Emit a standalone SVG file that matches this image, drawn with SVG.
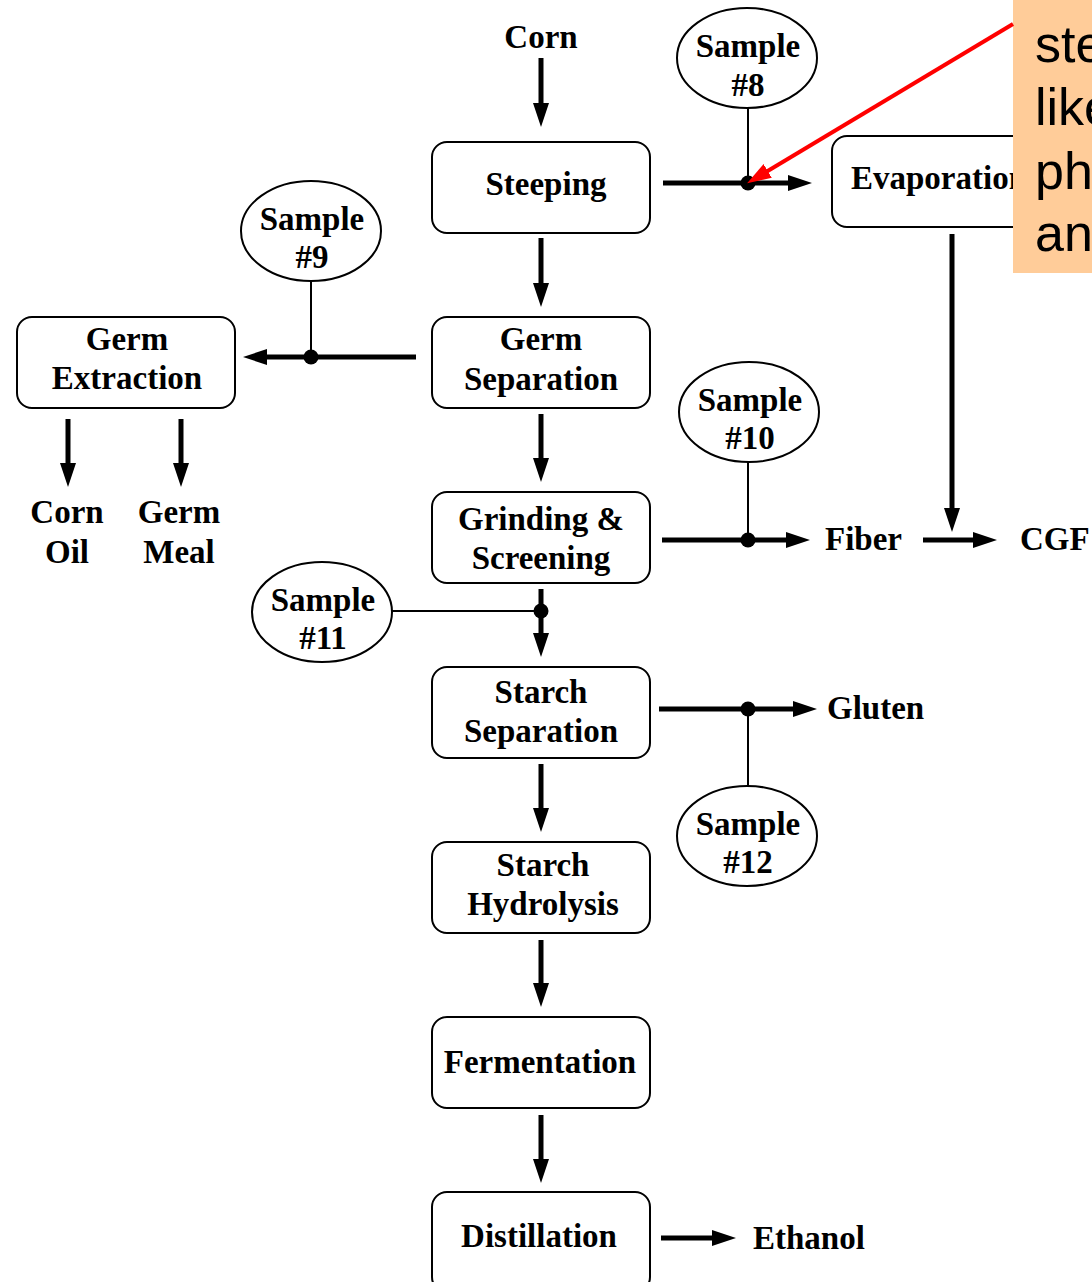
<svg xmlns="http://www.w3.org/2000/svg" width="1092" height="1282" viewBox="0 0 1092 1282">
<style>
.box{fill:#fff;stroke:#000;stroke-width:2}
.smp{fill:#fff;stroke:#000;stroke-width:2}
.t{font-family:"Liberation Serif","Times New Roman",serif;font-weight:bold;font-size:33px;fill:#000;text-anchor:middle}
.ts{font-family:"Liberation Serif","Times New Roman",serif;font-weight:bold;font-size:33px;fill:#000}
.arr{stroke:#000;stroke-width:5;fill:none;marker-end:url(#ah)}
.thin{stroke:#000;stroke-width:2;fill:none}
.dot{fill:#000}
.note{font-family:"Liberation Sans",Arial,sans-serif;font-size:52px;fill:#000}
</style>
<defs>
<marker id="ah" markerUnits="userSpaceOnUse" markerWidth="24" markerHeight="18" refX="2" refY="9" orient="auto">
<path d="M0,1 L24,9 L0,17 z" fill="#000"/>
</marker>
<marker id="rh" markerUnits="userSpaceOnUse" markerWidth="24" markerHeight="18" refX="2" refY="9" orient="auto">
<path d="M0,1 L24,9 L0,17 z" fill="#f00"/>
</marker>
</defs>

<g id="connectors">
<line class="arr" x1="541" y1="58" x2="541" y2="105"/>
<line class="arr" x1="663" y1="183" x2="790" y2="183"/>
<line class="arr" x1="541" y1="238" x2="541" y2="285"/>
<line class="arr" x1="416" y1="357" x2="265" y2="357"/>
<line class="arr" x1="68" y1="419" x2="68" y2="465"/>
<line class="arr" x1="181" y1="419" x2="181" y2="465"/>
<line class="arr" x1="541" y1="414" x2="541" y2="460"/>
<line class="arr" x1="662" y1="540" x2="788" y2="540"/>
<line class="arr" x1="923" y1="540" x2="975" y2="540"/>
<line class="arr" x1="952" y1="234" x2="952" y2="510"/>
<line class="arr" x1="541" y1="589" x2="541" y2="635"/>
<line class="arr" x1="659" y1="709" x2="795" y2="709"/>
<line class="arr" x1="541" y1="764" x2="541" y2="810"/>
<line class="arr" x1="541" y1="940" x2="541" y2="985"/>
<line class="arr" x1="541" y1="1115" x2="541" y2="1161"/>
<line class="arr" x1="661" y1="1238" x2="714" y2="1238"/>
<line class="thin" x1="748" y1="108" x2="748" y2="183"/>
<line class="thin" x1="311" y1="281" x2="311" y2="357"/>
<line class="thin" x1="748" y1="462" x2="748" y2="540"/>
<line class="thin" x1="392" y1="611" x2="541" y2="611"/>
<line class="thin" x1="748" y1="709" x2="748" y2="786"/>
<circle class="dot" cx="748" cy="183" r="7.5"/>
<circle class="dot" cx="311" cy="357" r="7.5"/>
<circle class="dot" cx="748" cy="540" r="7.5"/>
<circle class="dot" cx="541" cy="611" r="7.5"/>
<circle class="dot" cx="748" cy="709" r="7.5"/>
</g>

<g id="corn"><text class="t" x="541" y="48">Corn</text></g>
<g id="steeping"><rect class="box" x="432" y="142" width="218" height="91" rx="15"/><text class="t" x="546" y="195">Steeping</text></g>
<g id="germ-separation"><rect class="box" x="432" y="317" width="218" height="91" rx="15"/><text class="t" x="541" y="350">Germ</text><text class="t" x="541" y="390">Separation</text></g>
<g id="grinding"><rect class="box" x="432" y="492" width="218" height="91" rx="15"/><text class="t" x="541" y="530">Grinding &amp;</text><text class="t" x="541" y="569">Screening</text></g>
<g id="starch-separation"><rect class="box" x="432" y="667" width="218" height="91" rx="15"/><text class="t" x="541" y="703">Starch</text><text class="t" x="541" y="742">Separation</text></g>
<g id="starch-hydrolysis"><rect class="box" x="432" y="842" width="218" height="91" rx="15"/><text class="t" x="543" y="876">Starch</text><text class="t" x="543" y="915">Hydrolysis</text></g>
<g id="fermentation"><rect class="box" x="432" y="1017" width="218" height="91" rx="15"/><text class="t" x="540" y="1073">Fermentation</text></g>
<g id="distillation"><rect class="box" x="432" y="1192" width="218" height="100" rx="15"/><text class="t" x="539" y="1247">Distillation</text></g>
<g id="germ-extraction"><rect class="box" x="17" y="317" width="218" height="91" rx="15"/><text class="t" x="127" y="350">Germ</text><text class="t" x="127" y="389">Extraction</text></g>
<g id="corn-oil"><text class="t" x="67" y="523">Corn</text><text class="t" x="67" y="563">Oil</text></g>
<g id="germ-meal"><text class="t" x="179" y="523">Germ</text><text class="t" x="179" y="563">Meal</text></g>
<g id="evaporation"><rect class="box" x="832" y="136" width="218" height="91" rx="15"/><text class="ts" x="851" y="189">Evaporation</text></g>
<g id="fiber"><text class="ts" x="825" y="550">Fiber</text></g>
<g id="cgf"><text class="ts" x="1020" y="550">CGF</text></g>
<g id="gluten"><text class="ts" x="827" y="719">Gluten</text></g>
<g id="ethanol"><text class="ts" x="753" y="1249">Ethanol</text></g>

<g id="sample8"><ellipse class="smp" cx="747" cy="58" rx="70" ry="50"/><text class="t" x="748" y="57">Sample</text><text class="t" x="748" y="96">#8</text></g>
<g id="sample9"><ellipse class="smp" cx="311" cy="231" rx="70" ry="50"/><text class="t" x="312" y="230">Sample</text><text class="t" x="312" y="268">#9</text></g>
<g id="sample10"><ellipse class="smp" cx="749" cy="412" rx="70" ry="50"/><text class="t" x="750" y="411">Sample</text><text class="t" x="750" y="449">#10</text></g>
<g id="sample11"><ellipse class="smp" cx="322" cy="612" rx="70" ry="50"/><text class="t" x="323" y="611">Sample</text><text class="t" x="323" y="649">#11</text></g>
<g id="sample12"><ellipse class="smp" cx="747" cy="836" rx="70" ry="50"/><text class="t" x="748" y="835">Sample</text><text class="t" x="748" y="873">#12</text></g>

<g id="note">
<rect x="1013" y="0" width="90" height="273" fill="#FFCC99"/>
<text class="note" x="1035" y="62">ste</text>
<text class="note" x="1035" y="125">like</text>
<text class="note" x="1035" y="189">ph</text>
<text class="note" x="1035" y="251">an</text>
<line x1="1013" y1="24" x2="766" y2="172" stroke="#f00" stroke-width="4" marker-end="url(#rh)"/>
</g>
</svg>
